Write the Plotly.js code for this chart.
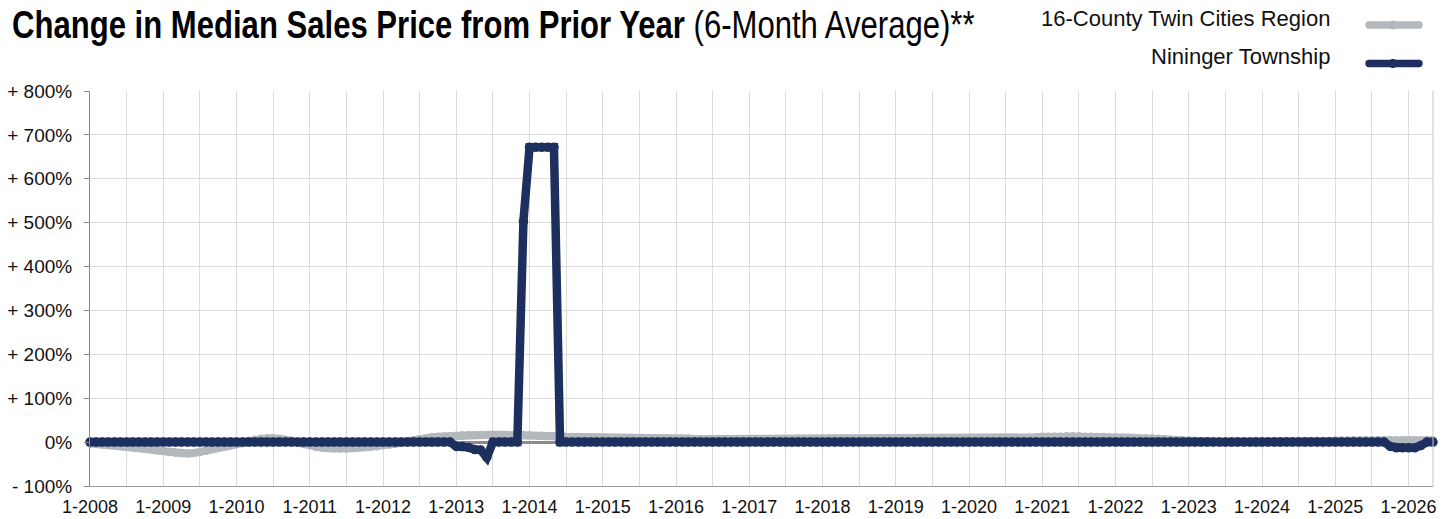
<!DOCTYPE html>
<html>
<head>
<meta charset="utf-8">
<script src="https://cdn.plot.ly/plotly-3.0.1.min.js"></script>
<style>
html,body{margin:0;padding:0;background:#fff;}
#chart{width:1451px;height:519px;}
</style>
</head>
<body>
<div id="chart"></div>
<script>
// Tick labels for the category (month) axis: one label per January
const yearLabels = ["1-2008","1-2009","1-2010","1-2011","1-2012","1-2013","1-2014","1-2015","1-2016","1-2017","1-2018","1-2019","1-2020","1-2021","1-2022","1-2023","1-2024","1-2025","1-2026"];
const yTickValues = [-100,0,100,200,300,400,500,600,700,800];
const yTickLabels = ["- 100%","0%","+ 100%","+ 200%","+ 300%","+ 400%","+ 500%","+ 600%","+ 700%","+ 800%"];

// 16-County Twin Cities Region, monthly (1-2008 .. 5-2026), % change
const regionValues = [
  -3,-4,-5,-6,-7,-8,-10,-11,-13,-15,-17,-19,
  -21,-23,-25,-26,-26,-25,-23,-20,-17,-14,-11,-8,
  -5,-1,3,6,8,9,9,8,6,3,-1,-5,
  -8,-11,-13,-14,-15,-15,-15,-14,-13,-12,-11,-10,
  -8,-6,-4,-1,2,5,7,9,11,12,13,14,
  15,16,16,17,17,17,17,17,17,16,16,16,
  16,15,15,14,14,13,12,12,11,10,9,9,
  8,8,8,8,8,8,8,8,8,8,8,8,
  8,8,8,7,7,7,7,7,7,7,7,7,
  7,7,7,7,7,7,7,7,8,8,8,8,
  8,9,9,9,9,8,8,8,7,7,7,7,
  7,7,7,7,7,7,7,7,7,7,7,7,
  7,7,7,7,7,7,7,8,8,9,10,11,
  12,12,13,13,14,14,14,13,13,12,12,11,
  11,10,10,10,9,9,9,8,7,6,5,4,
  3,2,1,1,0,0,0,1,1,1,1,2,
  2,2,2,2,3,3,3,3,3,3,3,3,
  4,4,4,5,5,5,5,5,5,5,5,5,
  5,4,4,4,4
];

// Nininger Township, monthly (1-2008 .. 5-2026), % change
const townshipValues = [
  0,0,0,0,0,0,0,0,0,0,0,0,
  0,0,0,0,0,0,0,0,0,0,0,0,
  0,0,0,0,0,0,0,0,0,0,0,0,
  0,0,0,0,0,0,0,0,0,0,0,0,
  0,0,0,0,0,0,0,0,0,0,0,0,
  -10,-10,-12,-17,-18,-35,0,0,0,0,0,503,
  672,672,672,672,672,0,0,0,0,0,0,0,
  0,0,0,0,0,0,0,0,0,0,0,0,
  0,0,0,0,0,0,0,0,0,0,0,0,
  0,0,0,0,0,0,0,0,0,0,0,0,
  0,0,0,0,0,0,0,0,0,0,0,0,
  0,0,0,0,0,0,0,0,0,0,0,0,
  0,0,0,0,0,0,0,0,0,0,0,0,
  0,0,0,0,0,0,0,0,0,0,0,0,
  0,0,0,0,0,0,0,0,0,0,0,0,
  0,0,0,0,0,0,0,0,0,0,0,0,
  0,0,0,0,0,0,0,0,0,0,0,0,
  0,0,0,0,0,0,0,0,0,-10,-13,-13,
  -13,-13,-8,0,0
];

const seriesNames = ["16-County Twin Cities Region","Nininger Township"];
const GRAY = "#b3b8bd";
const NAVY = "#1d2f5e";

const monthIndex = regionValues.map((_, i) => i);

// ticks every 6 months, labelled each January
const tickVals = [];
const tickText = [];
for (let m = 0; m < regionValues.length; m += 6) {
  tickVals.push(m);
  tickText.push(m % 12 === 0 ? yearLabels[m / 12] : "");
}

const traces = [
  {
    x: monthIndex, y: regionValues, name: seriesNames[0],
    type: "scatter", mode: "lines+markers",
    line: {color: GRAY, width: 8},
    marker: {color: GRAY, size: 8},
    cliponaxis: false, showlegend: false
  },
  {
    x: monthIndex, y: townshipValues, name: seriesNames[1],
    type: "scatter", mode: "lines+markers",
    line: {color: NAVY, width: 8.5},
    marker: {color: NAVY, size: 9.5},
    cliponaxis: false, showlegend: false
  }
];

const legendFont = {family: "Liberation Sans, Arial, sans-serif", size: 22, color: "#111"};

const plotTop = 91, plotBottom = 33, plotLeft = 90, plotRight = 18;
const plotH = 519 - plotTop - plotBottom, plotW = 1451 - plotLeft - plotRight;
function py(pix) { return 1 - (pix - plotTop) / plotH; }
function px(pix) { return (pix - plotLeft) / plotW; }
function legendItem(yPix, color) {
  const yp = py(yPix);
  const ry = 4.5 / plotH, rx = 4.5 / plotW, rcy = 3.7 / plotH, rcx = 3.7 / plotW;
  const xa = px(1369), xb = px(1419), xc = px(1393);
  return [
    {type: "line", xref: "paper", yref: "paper", x0: xa, x1: xb, y0: yp, y1: yp, line: {color: color, width: 7.4}},
    {type: "circle", xref: "paper", yref: "paper", x0: xa - rcx, x1: xa + rcx, y0: yp - rcy, y1: yp + rcy, fillcolor: color, line: {width: 0}},
    {type: "circle", xref: "paper", yref: "paper", x0: xb - rcx, x1: xb + rcx, y0: yp - rcy, y1: yp + rcy, fillcolor: color, line: {width: 0}},
    {type: "circle", xref: "paper", yref: "paper", x0: xc - rx, x1: xc + rx, y0: yp - ry, y1: yp + ry, fillcolor: color, line: {width: 0}}
  ];
}

const layout = {
  width: 1451, height: 519,
  paper_bgcolor: "#ffffff", plot_bgcolor: "#ffffff",
  margin: {l: plotLeft, r: plotRight, t: plotTop, b: plotBottom, pad: 0},
  font: {family: "Liberation Sans, Arial, sans-serif", size: 18, color: "#111"},
  title: {
    text: "<b>Change in Median Sales Price from Prior Year</b> (6-Month Average)**",
    font: {family: "Liberation Sans, Arial, sans-serif", size: 38, color: "#000"},
    x: 0.0083, xanchor: "left", xref: "container",
    y: 0.952, yanchor: "middle", yref: "container"
  },
  xaxis: {
    range: [0, regionValues.length - 1],
    tickmode: "array", tickvals: tickVals, ticktext: tickText,
    showgrid: true, gridcolor: "#dcdcdc", gridwidth: 1,
    showline: true, linecolor: "#9a9a9a", linewidth: 1,
    zeroline: false, ticks: "", ticklabelstandoff: 4,
    tickfont: {size: 18, color: "#111"},
    fixedrange: true
  },
  yaxis: {
    range: [-100, 800],
    tickmode: "array", tickvals: yTickValues, ticktext: yTickLabels,
    showgrid: true, gridcolor: "#dcdcdc", gridwidth: 1,
    showline: true, linecolor: "#8a8a8a", linewidth: 1,
    zeroline: true, zerolinecolor: "#8c8c8c", zerolinewidth: 3,
    ticks: "outside", ticklen: 5, tickcolor: "#8a8a8a",
    ticklabelstandoff: 8,
    tickfont: {size: 19, color: "#111"},
    fixedrange: true
  },
  shapes: [
    {type: "line", xref: "paper", yref: "paper", x0: 1, x1: 1, y0: 0, y1: 1, line: {color: "#c8c8c8", width: 1}},
    ...legendItem(25, GRAY),
    ...legendItem(63.5, NAVY)
  ],
  annotations: [
    {text: seriesNames[0], xref: "paper", yref: "paper", x: px(1332), y: py(18.5), xanchor: "right", yanchor: "middle", showarrow: false, font: legendFont},
    {text: seriesNames[1], xref: "paper", yref: "paper", x: px(1332), y: py(57), xanchor: "right", yanchor: "middle", showarrow: false, font: legendFont}
  ]
};

Plotly.newPlot("chart", traces, layout, {displayModeBar: false, staticPlot: true}).then(function () {
  // condense the title horizontally to mimic the condensed typeface of the original
  const t = document.querySelector(".gtitle");
  if (t) {
    const bb = t.getBBox();
    const targetW = 963, left = 12;
    const s = targetW / bb.width;
    t.setAttribute("transform", "translate(" + left + ",0) scale(" + s + ",1) translate(" + (-bb.x) + ",0)");
  }
});
</script>
</body>
</html>
